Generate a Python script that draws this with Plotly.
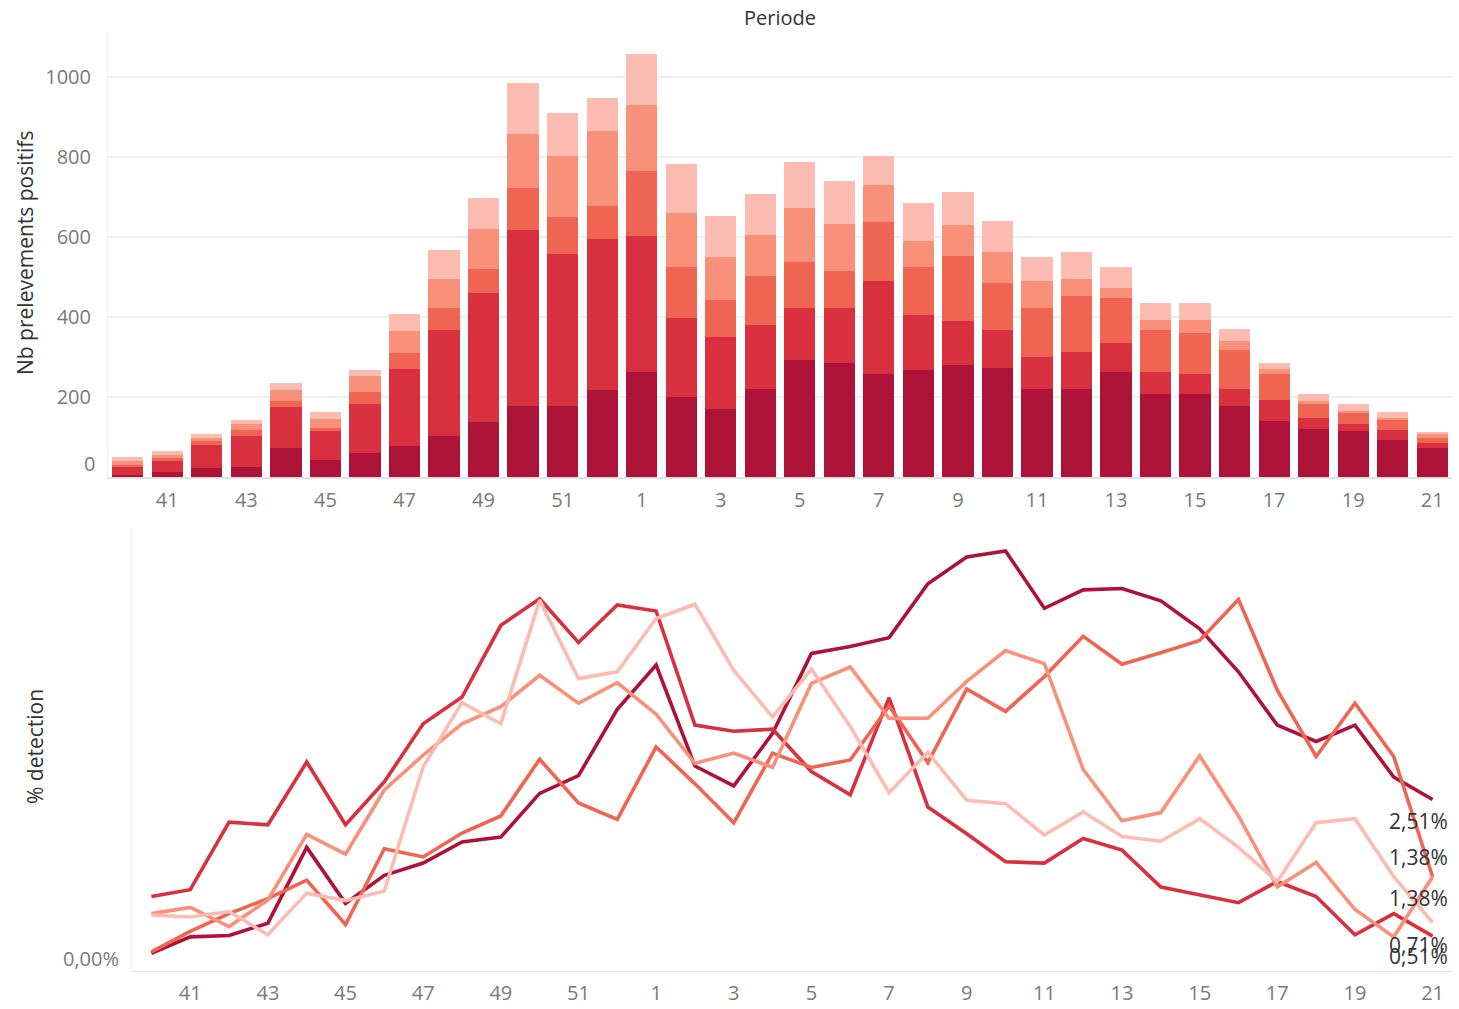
import plotly.graph_objects as go

# ---------------- DATA ----------------
weeks = ["40", "41", "42", "43", "44", "45", "46", "47", "48", "49", "50", "51", "52",
         "1", "2", "3", "4", "5", "6", "7", "8", "9", "10", "11", "12", "13", "14",
         "15", "16", "17", "18", "19", "20", "21"]
tick_weeks = ["41", "43", "45", "47", "49", "51", "1", "3", "5", "7", "9", "11",
              "13", "15", "17", "19", "21"]
series_names = ["Groupe 1", "Groupe 2", "Groupe 3", "Groupe 4", "Groupe 5"]

# Nb prelevements positifs (stacked, bottom -> top)
count_g1 = [4, 12, 22, 24, 72, 42, 59, 77, 102, 137, 177, 177, 217, 262, 199, 169, 219,
            292, 284, 257, 267, 279, 272, 219, 219, 262, 207, 207, 177, 139, 119, 114, 92, 72]
count_g2 = [23, 27, 57, 78, 102, 72, 123, 192, 265, 322, 440, 380, 377, 340, 198, 180, 160,
            130, 138, 232, 137, 110, 95, 80, 93, 72, 55, 50, 42, 53, 28, 18, 25, 12]
count_g3 = [2, 8, 10, 15, 15, 8, 30, 40, 55, 60, 105, 92, 83, 162, 127, 93, 123,
            115, 92, 148, 120, 163, 117, 123, 140, 113, 105, 102, 98, 65, 35, 30, 27, 13]
count_g4 = [10, 7, 8, 15, 28, 22, 40, 55, 72, 100, 135, 153, 187, 165, 135, 107, 102,
            135, 118, 92, 65, 77, 78, 67, 42, 25, 25, 33, 22, 12, 7, 2, 3, 10]
count_g5 = [10, 10, 10, 10, 17, 18, 15, 43, 73, 78, 127, 107, 83, 128, 123, 103, 103,
            115, 107, 73, 95, 83, 77, 60, 68, 52, 42, 42, 30, 15, 18, 18, 15, 5]

# % detection
pct_g1 = [0.26, 0.50, 0.52, 0.70, 1.81, 0.99, 1.40, 1.58, 1.89, 1.96, 2.60, 2.86, 3.83,
          4.48, 3.00, 2.71, 3.48, 4.65, 4.75, 4.88, 5.67, 6.06, 6.15, 5.31, 5.58, 5.60,
          5.42, 5.01, 4.38, 3.60, 3.36, 3.60, 2.84, 2.51]
pct_g2 = [1.09, 1.19, 2.18, 2.14, 3.06, 2.14, 2.77, 3.62, 4.01, 5.06, 5.45, 4.81, 5.36,
          5.27, 3.60, 3.51, 3.54, 2.92, 2.58, 4.00, 2.40, 2.01, 1.60, 1.58, 1.94, 1.77,
          1.23, 1.11, 1.00, 1.31, 1.09, 0.53, 0.84, 0.51]
pct_g3 = [0.28, 0.58, 0.84, 1.06, 1.33, 0.68, 1.79, 1.67, 2.02, 2.27, 3.10, 2.46, 2.22,
          3.28, 2.74, 2.17, 3.19, 2.98, 3.09, 3.88, 3.05, 4.13, 3.80, 4.31, 4.90, 4.49,
          4.66, 4.84, 5.44, 4.11, 3.14, 3.92, 3.14, 1.38]
pct_g4 = [0.84, 0.93, 0.65, 1.04, 2.00, 1.71, 2.65, 3.16, 3.62, 3.87, 4.33, 3.92, 4.22,
          3.76, 3.04, 3.19, 2.98, 4.21, 4.45, 3.70, 3.70, 4.24, 4.69, 4.50, 2.95, 2.20,
          2.32, 3.15, 2.27, 1.23, 1.59, 0.90, 0.50, 1.38]
pct_g5 = [0.82, 0.79, 0.87, 0.53, 1.14, 1.03, 1.17, 2.99, 3.93, 3.62, 5.43, 4.28, 4.38,
          5.16, 5.37, 4.40, 3.72, 4.42, 3.58, 2.61, 3.20, 2.50, 2.45, 1.99, 2.33, 1.97,
          1.90, 2.23, 1.81, 1.31, 2.17, 2.23, 1.38, 0.71]

colors = ["#AD1338", "#D8303F", "#F06452", "#F9917A", "#FDBCB1"]
counts = [count_g1, count_g2, count_g3, count_g4, count_g5]
pcts = [pct_g1, pct_g2, pct_g3, pct_g4, pct_g5]
label_yshift = [-21, -20, 20, -21, -22]

FONT = "Open Sans"
W, H = 1459, 1009

fig = go.Figure()

for name, vals, col in zip(series_names, counts, colors):
    fig.add_trace(go.Bar(x=weeks, y=vals, name=name, marker=dict(color=col, line=dict(width=0)),
                         xaxis="x", yaxis="y"))

for name, vals, col in zip(series_names, pcts, colors):
    fig.add_trace(go.Scatter(x=weeks, y=vals, name=name, mode="lines",
                             line=dict(color=col, width=3.6), xaxis="x2", yaxis="y2"))

annotations = []
# end-of-line labels (x given as category index of the last week)
last_idx = len(weeks) - 1
for vals, dy in zip(pcts, label_yshift):
    annotations.append(dict(x=last_idx, y=vals[-1], xref="x2", yref="y2",
                            text=f"{vals[-1]:.2f}%".replace(".", ","), showarrow=False,
                            xanchor="center", yanchor="middle", xshift=-14, yshift=dy,
                            font=dict(family=FONT, size=21, color="#333333")))

annotations += [
    dict(x=(108 + 1452) / 2 / W, y=1 - 17 / H, xref="paper", yref="paper", text="Periode",
         showarrow=False, xanchor="center", yanchor="middle",
         font=dict(family=FONT, size=20, color="#333333")),
    dict(x=25 / W, y=1 - 253 / H, xref="paper", yref="paper", text="Nb prelevements positifs",
         textangle=-90, showarrow=False, xanchor="center", yanchor="middle",
         font=dict(family=FONT, size=21, color="#333333")),
    dict(x=35 / W, y=1 - 747 / H, xref="paper", yref="paper", text="% detection",
         textangle=-90, showarrow=False, xanchor="center", yanchor="middle",
         font=dict(family=FONT, size=21, color="#333333")),
    dict(x=97 / W, y=0, xref="paper", yref="y", text="0", showarrow=False,
         xanchor="right", yanchor="middle", yshift=14,
         font=dict(family=FONT, size=20, color="#7a7a7a")),
    dict(x=121 / W, y=0, xref="paper", yref="y2", text="0,00%", showarrow=False,
         xanchor="right", yanchor="middle", yshift=13,
         font=dict(family=FONT, size=20, color="#7a7a7a")),
]

tickfont = dict(family=FONT, size=20, color="#7a7a7a")

fig.update_layout(
    width=W, height=H,
    margin=dict(l=0, r=0, t=0, b=0),
    paper_bgcolor="white", plot_bgcolor="white",
    barmode="stack", bargap=0.21,
    showlegend=False,
    annotations=annotations,
    xaxis=dict(domain=[108 / W, 1452 / W], anchor="y", type="category",
               categoryorder="array", categoryarray=weeks, range=[-0.5, 33.5],
               tickmode="array", tickvals=tick_weeks, ticktext=tick_weeks,
               tickfont=tickfont, showgrid=False, showline=True, linecolor="#e2e2e2",
               linewidth=1.5, ticks="", ticklabelstandoff=4),
    yaxis=dict(domain=[1 - 477 / H, 1 - 32 / H], anchor="x", range=[0, 1112],
               tickmode="array", tickvals=[200, 400, 600, 800, 1000],
               ticktext=["200", "400", "600", "800", "1000"],
               tickfont=tickfont, showgrid=True, gridcolor="#f0f0f0", gridwidth=1.5,
               zeroline=False, showline=True, linecolor="#f0f0f0", ticks="",
               ticklabelstandoff=12),
    xaxis2=dict(domain=[132 / W, 1452 / W], anchor="y2", type="category",
                categoryorder="array", categoryarray=weeks, range=[-0.5, 33.5],
                tickmode="array", tickvals=tick_weeks, ticktext=tick_weeks,
                tickfont=tickfont, showgrid=False, showline=True, linecolor="#e6e6e6",
                linewidth=1.2, ticks="", ticklabelstandoff=4),
    yaxis2=dict(domain=[1 - 971 / H, 1 - 527 / H], anchor="x2", range=[0, 6.5],
                showticklabels=False, ticks="", showgrid=False, zeroline=False,
                showline=True, linecolor="#f0f0f0"),
)

fig.write_html("out.html", config={"displayModeBar": False},
               post_script="document.body.style.margin='0';document.body.style.overflow='hidden';")
